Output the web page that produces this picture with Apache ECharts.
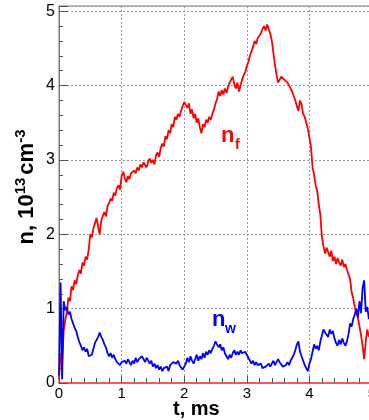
<!DOCTYPE html>
<html>
<head>
<meta charset="utf-8">
<script src="https://cdn.jsdelivr.net/npm/echarts@6/dist/echarts.min.js"></script>
<style>
  html, body { margin: 0; padding: 0; background: #fff; }
  #chart { width: 369px; height: 420px; }
</style>
</head>
<body>
<div id="chart"></div>
<script>
// Sampling of both density traces, ms
const T_STEP = 0.025;

// n_f, 10^13 cm^-3, sampled from t = 0 every T_STEP
const nF = [
  0.05, 0.40, 0.30, 0.70, 0.85, 0.95, 1.15, 1.10, 1.30, 1.25,
  1.38, 1.33, 1.45, 1.52, 1.47, 1.62, 1.58, 1.70, 1.66, 1.80,
  2.00, 1.96, 2.08, 2.15, 2.22, 2.10, 2.00, 2.18, 2.25, 2.30,
  2.24, 2.38, 2.42, 2.48, 2.45, 2.56, 2.52, 2.62, 2.66, 2.60,
  2.78, 2.84, 2.76, 2.70, 2.78, 2.74, 2.82, 2.80, 2.86, 2.82,
  2.90, 2.86, 2.94, 2.90, 2.97, 2.93, 2.90, 2.98, 3.02, 2.96,
  3.00, 2.94, 3.06, 3.10, 3.04, 3.16, 3.22, 3.18, 3.32, 3.28,
  3.40, 3.36, 3.48, 3.44, 3.58, 3.54, 3.62, 3.58, 3.66, 3.72,
  3.78, 3.74, 3.70, 3.76, 3.62, 3.68, 3.56, 3.62, 3.50, 3.56,
  3.44, 3.36, 3.48, 3.44, 3.54, 3.50, 3.58, 3.54, 3.62, 3.68,
  3.76, 3.82, 3.92, 3.86, 3.94, 3.88, 3.96, 3.90, 3.98, 4.04,
  4.08, 4.12, 4.02, 3.96, 4.04, 3.92, 4.00, 4.08, 4.14, 4.18,
  4.26, 4.32, 4.40, 4.46, 4.52, 4.60, 4.56, 4.64, 4.62, 4.70,
  4.76, 4.80, 4.74, 4.82, 4.76, 4.70, 4.60, 4.44, 4.28, 4.14,
  4.04, 4.08, 4.12, 4.14, 4.08, 4.10, 4.04, 4.00, 3.96, 3.92,
  3.86, 3.80, 3.72, 3.66, 3.80, 3.74, 3.62, 3.58, 3.50, 3.42,
  3.30, 3.18, 2.90, 2.80, 2.66, 2.58, 2.40, 2.26, 1.96, 1.84,
  1.74, 1.82, 1.76, 1.70, 1.78, 1.64, 1.70, 1.60, 1.68, 1.62,
  1.58, 1.66, 1.56, 1.60, 1.52, 1.46, 1.40, 1.22, 1.14, 1.02,
  0.94, 0.88, 0.76, 0.64, 0.50, 0.32, 0.56, 0.72, 0.62
];

// n_w, 10^13 cm^-3, same sampling
const nW = [
  0.10, 1.35, 0.05, 1.10, 0.98, 1.02, 0.92, 0.96, 0.86, 0.80,
  0.74, 0.70, 0.62, 0.55, 0.50, 0.44, 0.48, 0.42, 0.46, 0.36,
  0.34, 0.38, 0.46, 0.54, 0.58, 0.62, 0.68, 0.62, 0.58, 0.52,
  0.48, 0.40, 0.36, 0.40, 0.34, 0.38, 0.32, 0.28, 0.30, 0.24,
  0.28, 0.26, 0.30, 0.26, 0.32, 0.28, 0.24, 0.30, 0.26, 0.34,
  0.28, 0.32, 0.30, 0.36, 0.32, 0.28, 0.34, 0.30, 0.26, 0.30,
  0.22, 0.26, 0.20, 0.24, 0.18, 0.22, 0.16, 0.20, 0.18, 0.22,
  0.16, 0.24, 0.22, 0.28, 0.30, 0.26, 0.30, 0.24, 0.22, 0.18,
  0.20, 0.26, 0.34, 0.28, 0.36, 0.30, 0.26, 0.32, 0.38, 0.30,
  0.36, 0.32, 0.40, 0.34, 0.42, 0.38, 0.44, 0.40, 0.46, 0.50,
  0.56, 0.52, 0.48, 0.52, 0.44, 0.48, 0.40, 0.36, 0.32, 0.38,
  0.34, 0.40, 0.44, 0.38, 0.42, 0.38, 0.44, 0.40, 0.38, 0.42,
  0.40, 0.34, 0.30, 0.26, 0.30, 0.24, 0.28, 0.24, 0.22, 0.26,
  0.20, 0.18, 0.22, 0.20, 0.26, 0.22, 0.26, 0.30, 0.24, 0.28,
  0.32, 0.28, 0.26, 0.22, 0.20, 0.24, 0.28, 0.24, 0.30, 0.34,
  0.38, 0.44, 0.52, 0.56, 0.42, 0.36, 0.30, 0.24, 0.20, 0.16,
  0.26, 0.32, 0.42, 0.52, 0.46, 0.50, 0.44, 0.56, 0.64, 0.72,
  0.68, 0.70, 0.62, 0.72, 0.66, 0.70, 0.60, 0.54, 0.50, 0.58,
  0.52, 0.60, 0.54, 0.50, 0.56, 0.66, 0.80, 0.76, 0.86, 0.92,
  1.00, 0.88, 1.10, 0.94, 1.28, 1.38, 0.96, 1.02, 0.86, 0.90
];

// Axis ticks
const xTicks = [0, 1, 2, 3, 4, 5];
const yTicks = [0, 1, 2, 3, 4, 5];

const FONT = '"Liberation Sans", Arial, Helvetica, sans-serif';

const toPairs = arr => arr.map((v, i) => [i * T_STEP, v]);

const chart = echarts.init(document.getElementById('chart'), null, { renderer: 'canvas' });

const gridLine = { show: true, lineStyle: { color: '#9a9a9a', width: 1, type: [2, 2] } };

chart.setOption({
  animation: false,
  backgroundColor: '#ffffff',
  grid: {
    left: 59, right: -3, top: 6, bottom: 37,
    outerBoundsMode: 'none', containLabel: false,
    show: true, borderColor: '#777', borderWidth: 1, backgroundColor: 'transparent'
  },
  xAxis: {
    type: 'value',
    min: xTicks[0], max: xTicks[xTicks.length - 1], interval: 1,
    axisLine: { show: true, onZero: false, lineStyle: { color: '#f05a5a', width: 2 } },
    axisTick: { show: true, inside: true, length: 7, lineStyle: { color: '#555' } },
    minorTick: { show: true, splitNumber: 5, length: 5, lineStyle: { color: '#555' } },
    axisLabel: { color: '#000', fontSize: 15, fontFamily: FONT, margin: 3 },
    splitLine: gridLine
  },
  yAxis: {
    type: 'value',
    min: yTicks[0], max: 5.07, interval: 1,
    axisLine: { show: true, onZero: false, lineStyle: { color: '#777', width: 1 } },
    axisTick: { show: true, inside: true, length: 9, lineStyle: { color: '#555' } },
    minorTick: { show: true, splitNumber: 5, length: 4, lineStyle: { color: '#555' } },
    axisLabel: {
      color: '#000', fontSize: 16, fontFamily: FONT, margin: 4,
      formatter: v => (yTicks.indexOf(v) >= 0 ? String(v) : '')
    },
    splitLine: gridLine
  },
  series: [
    {
      name: 'n_f', type: 'line', data: toPairs(nF),
      showSymbol: false, symbol: 'none',
      lineStyle: { color: '#ff0000', width: 1.8 }, z: 3
    },
    {
      name: 'n_w', type: 'line', data: toPairs(nW),
      showSymbol: false, symbol: 'none',
      lineStyle: { color: '#0000ff', width: 1.8 }, z: 4
    }
  ],
  graphic: [
    // y-axis title, rotated
    {
      type: 'text', x: 27, y: 187, rotation: Math.PI / 2,
      style: {
        text: '{a|n, 10}{s|13}{c|cm}{s|-3}',
        align: 'center', verticalAlign: 'middle',
        rich: {
          a: { fontSize: 22, fontWeight: 'bold', fontFamily: FONT, fill: '#000', lineHeight: 28 },
          c: { fontSize: 22, fontWeight: 'bold', fontFamily: FONT, fill: '#000', lineHeight: 28, padding: [0, 0, 0, 3] },
          s: { fontSize: 15, fontWeight: 'bold', fontFamily: FONT, fill: '#000', verticalAlign: 'top', lineHeight: 15 }
        }
      }
    },
    // x-axis title
    {
      type: 'text', x: 173, y: 409,
      style: { text: 't, ms', fontSize: 20, fontWeight: 'bold', fontFamily: FONT, fill: '#000', align: 'left', verticalAlign: 'middle' }
    },
    // n_f tag
    {
      type: 'text', x: 221, y: 136,
      style: { text: 'n', fontSize: 22, fontWeight: 'bold', fontFamily: FONT, fill: '#ff0000', align: 'left', verticalAlign: 'middle' }
    },
    {
      type: 'text', x: 235, y: 145,
      style: { text: 'f', fontSize: 14, fontWeight: 'bold', fontFamily: FONT, fill: '#ff0000', align: 'left', verticalAlign: 'middle' }
    },
    // n_w tag
    {
      type: 'text', x: 212, y: 320,
      style: { text: 'n', fontSize: 22, fontWeight: 'bold', fontFamily: FONT, fill: '#0000ff', align: 'left', verticalAlign: 'middle' }
    },
    {
      type: 'text', x: 225, y: 329,
      style: { text: 'w', fontSize: 14, fontWeight: 'bold', fontFamily: FONT, fill: '#0000ff', align: 'left', verticalAlign: 'middle' }
    }
  ]
});
</script>
</body>
</html>
